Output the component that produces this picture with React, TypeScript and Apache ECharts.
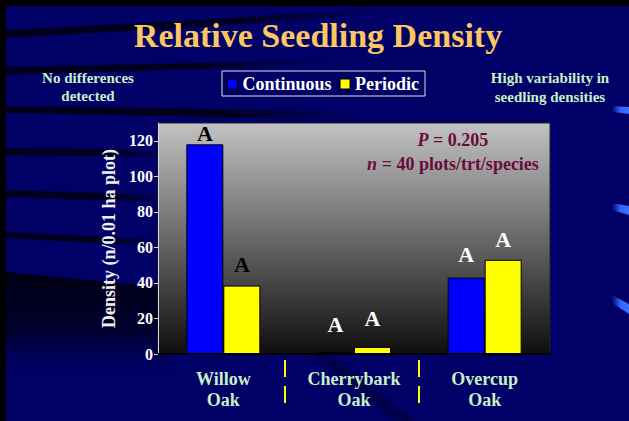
import React, { useEffect, useRef } from "react";
import * as echarts from "echarts";

const categories = ["Willow\nOak", "Cherrybark\nOak", "Overcup\nOak"];
const seriesNames = ["Continuous", "Periodic"];
const continuous = [118, 1, 43];
const periodic = [38.5, 4, 53];
const contLetters = ["A", "A", "A"];
const perLetters = ["A", "A", "A"];
const letterColors = ["#000000", "#ffffff", "#ffffff"];
const liftCont = [0, 17, 12];
const liftPer = [10, 17, 9];
const yTicks = [0, 20, 40, 60, 80, 100, 120];
const yMax = 130;
const titleText = "Relative Seedling Density";
const leftNote = "No differences\ndetected";
const rightNote = "High variability in\nseedling densities";
const yName = "Density (n/0.01 ha plot)";

const SERIF = "'Liberation Serif', 'Times New Roman', serif";
const NAVY = "#000066";
const BAND = "#00001e";

function band(points: number[][]) {
  return {
    type: "polygon",
    z: -10,
    silent: true,
    shape: { points },
    style: {
      fill: {
        type: "linear", x: 0, y: 0, x2: 1, y2: 0,
        colorStops: [
          { offset: 0, color: BAND },
          { offset: 0.6, color: BAND },
          { offset: 1, color: "rgba(0,0,30,0)" },
        ],
      },
    },
  };
}

function glint(points: number[][]) {
  return {
    type: "polygon",
    z: -9,
    silent: true,
    shape: { points },
    style: {
      fill: {
        type: "linear", x: 0, y: 0, x2: 1, y2: 0,
        colorStops: [
          { offset: 0, color: "rgba(51,102,255,0)" },
          { offset: 0.5, color: "#3366ff" },
          { offset: 1, color: "#3a70ff" },
        ],
      },
    },
  };
}

export default function App() {
  const ref = useRef<HTMLDivElement>(null);
  useEffect(() => {
    if (!ref.current) return;
    const chart = echarts.init(ref.current, null, { renderer: "svg" });
    const labelFont = { fontFamily: SERIF, fontWeight: "bold", fontSize: 22 };
    const option: any = {
      animation: false,
      backgroundColor: "#000000",
      legend: {
        data: seriesNames,
        left: 222,
        top: 71,
        orient: "horizontal",
        padding: [4, 6, 3, 5],
        itemGap: 8,
        itemWidth: 10,
        itemHeight: 10,
        icon: "rect",
        borderColor: "#e0e0e0",
        borderWidth: 1,
        itemStyle: { borderColor: "#000", borderWidth: 1 },
        textStyle: { color: "#ffffff", fontFamily: SERIF, fontWeight: "bold", fontSize: 18 },
        selectedMode: false,
      },
      grid: {
        left: 158,
        top: 123,
        right: 79,
        bottom: 67,
        show: true,
        borderColor: "#222",
        borderWidth: 1,
        backgroundColor: {
          type: "linear", x: 0, y: 0, x2: 0, y2: 1,
          colorStops: [
            { offset: 0, color: "#c2c2c2" },
            { offset: 1, color: "#0e0e0e" },
          ],
        },
      },
      xAxis: {
        type: "category",
        data: categories,
        axisLine: { show: true, lineStyle: { color: "#000", width: 2 } },
        axisTick: { show: false },
        axisLabel: {
          color: "#c8f0c8",
          fontFamily: SERIF,
          fontWeight: "bold",
          fontSize: 18,
          lineHeight: 21,
          margin: 14,
        },
      },
      yAxis: {
        type: "value",
        min: 0,
        max: yMax,
        interval: 20,
        splitLine: { show: false },
        axisLine: { show: true, lineStyle: { color: "#d8d8d8", width: 1 } },
        axisTick: { show: true, length: 4, lineStyle: { color: "#d8d8d8" }, customValues: yTicks },
        axisLabel: {
          color: "#ffffff",
          fontFamily: SERIF,
          fontWeight: "bold",
          fontSize: 16,
          margin: 5,
          customValues: yTicks,
        },
        name: yName,
        nameLocation: "middle",
        nameRotate: 90,
        nameGap: 40,
        nameTextStyle: { color: "#f0f0f0", fontFamily: SERIF, fontWeight: "bold", fontSize: 18 },
      },
      series: [
        {
          name: seriesNames[0],
          type: "bar",
          barWidth: 37,
          barGap: "0%",
          itemStyle: { color: "#0000ff", borderColor: "#000", borderWidth: 1 },
          label: {
            show: true,
            position: "top",
            ...labelFont,
            formatter: (p: any) => contLetters[p.dataIndex],
          },
          data: continuous.map((v, i) => ({
            value: v,
            label: { distance: liftCont[i], color: letterColors[i] },
          })),
        },
        {
          name: seriesNames[1],
          type: "bar",
          barWidth: 37,
          barGap: "0%",
          itemStyle: { color: "#ffff00", borderColor: "#000", borderWidth: 1 },
          label: {
            show: true,
            position: "top",
            ...labelFont,
            formatter: (p: any) => perLetters[p.dataIndex],
          },
          data: periodic.map((v, i) => ({
            value: v,
            label: { distance: liftPer[i], color: letterColors[i] },
          })),
        },
      ],
      graphic: [
        { type: "rect", z: -20, silent: true, shape: { x: 6, y: 6, width: 623, height: 415 }, style: { fill: NAVY } },
        band([[6, 30], [200, 20], [380, 8], [380, 14], [200, 27], [6, 38]]),
        band([[6, 67], [200, 63], [330, 60], [330, 64], [200, 69], [6, 75]]),
        band([[6, 106], [160, 108], [360, 112], [360, 120], [160, 116], [6, 113]]),
        band([[6, 148], [170, 150], [170, 157], [6, 155]]),
        band([[6, 190], [170, 195], [170, 203], [6, 197]]),
        band([[6, 232], [170, 240], [170, 247], [6, 238]]),
        {
          type: "polygon",
          z: -10,
          silent: true,
          shape: { points: [[6, 272], [170, 288], [170, 382], [6, 382]] },
          style: {
            fill: {
              type: "linear", x: 0, y: 0, x2: 0, y2: 1,
              colorStops: [
                { offset: 0, color: "#000012" },
                { offset: 0.55, color: "#000030" },
                { offset: 1, color: "rgba(0,0,102,0)" },
              ],
            },
          },
        },
        {
          type: "polygon",
          z: -10,
          silent: true,
          shape: { points: [[312, 356], [332, 356], [415, 421], [395, 421]] },
          style: { fill: "rgba(0,0,30,0.35)" },
        },
        glint([[612, 106], [629, 107], [629, 114], [612, 112]]),
        glint([[612, 203], [629, 206], [629, 215], [612, 210]]),
        glint([[612, 295], [629, 304], [629, 314], [612, 303]]),
        {
          type: "text",
          z: 50,
          silent: true,
          style: {
            text: titleText,
            x: 318,
            y: 35,
            fill: "#fcc660",
            font: `bold 34px ${SERIF}`,
            textAlign: "center",
            textVerticalAlign: "middle",
          },
        },
        {
          type: "text",
          z: 50,
          silent: true,
          style: {
            text: leftNote,
            x: 88,
            y: 87,
            fill: "#c8f0c8",
            font: `bold 15px ${SERIF}`,
            lineHeight: 18,
            textAlign: "center",
            textVerticalAlign: "middle",
          },
        },
        {
          type: "text",
          z: 50,
          silent: true,
          style: {
            text: rightNote,
            x: 550,
            y: 87,
            fill: "#c8f0c8",
            font: `bold 15px ${SERIF}`,
            lineHeight: 19,
            textAlign: "center",
            textVerticalAlign: "middle",
          },
        },
        {
          type: "text",
          z: 50,
          silent: true,
          style: {
            text: "{i|P}{b| = 0.205}",
            x: 453,
            y: 140,
            textAlign: "center",
            textVerticalAlign: "middle",
            rich: {
              i: { fill: "#6b0a3c", fontFamily: SERIF, fontWeight: "bold", fontStyle: "italic", fontSize: 18 },
              b: { fill: "#6b0a3c", fontFamily: SERIF, fontWeight: "bold", fontSize: 18 },
            },
          },
        },
        {
          type: "text",
          z: 50,
          silent: true,
          style: {
            text: "{i|n}{b| = 40 plots/trt/species}",
            x: 453,
            y: 164,
            textAlign: "center",
            textVerticalAlign: "middle",
            rich: {
              i: { fill: "#6b0a3c", fontFamily: SERIF, fontWeight: "bold", fontStyle: "italic", fontSize: 18 },
              b: { fill: "#6b0a3c", fontFamily: SERIF, fontWeight: "bold", fontSize: 18 },
            },
          },
        },
        { type: "line", z: 50, silent: true, shape: { x1: 285, y1: 360, x2: 285, y2: 377 }, style: { stroke: "#ffff00", lineWidth: 2 } },
        { type: "line", z: 50, silent: true, shape: { x1: 285, y1: 386, x2: 285, y2: 403 }, style: { stroke: "#ffff00", lineWidth: 2 } },
        { type: "line", z: 50, silent: true, shape: { x1: 419, y1: 360, x2: 419, y2: 377 }, style: { stroke: "#ffff00", lineWidth: 2 } },
        { type: "line", z: 50, silent: true, shape: { x1: 419, y1: 386, x2: 419, y2: 403 }, style: { stroke: "#ffff00", lineWidth: 2 } },
      ],
    };
    chart.setOption(option);
    return () => chart.dispose();
  }, []);
  return (
    <div
      ref={ref}
      style={{ position: "fixed", left: 0, top: 0, width: 629, height: 421 }}
    />
  );
}
